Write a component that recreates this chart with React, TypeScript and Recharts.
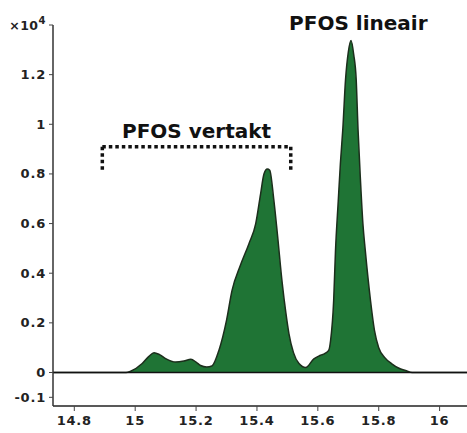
import React from "react";
import {
    AreaChart,
    Area,
    XAxis,
    YAxis,
    ReferenceLine,
    ReferenceDot,
} from "recharts";

// retention time (min) and intensity (x10^4)
const retentionTimes = [
    14.73, 14.97, 14.985, 15.023, 15.045, 15.062, 15.08, 15.1, 15.133, 15.16,
    15.183, 15.2, 15.215, 15.235, 15.252, 15.275, 15.3, 15.318, 15.345, 15.374,
    15.396, 15.412, 15.423, 15.434, 15.442, 15.455, 15.467, 15.483, 15.495,
    15.505, 15.52, 15.538, 15.56, 15.587, 15.603, 15.625, 15.636, 15.642, 15.652,
    15.658, 15.667, 15.674, 15.682, 15.691, 15.7, 15.709, 15.718, 15.726, 15.732,
    15.74, 15.748, 15.756, 15.773, 15.786, 15.8, 15.82, 15.843, 15.865, 15.888,
    15.91, 16.09,
];
const intensities = [
    0, 0, 0.005, 0.036, 0.065, 0.08, 0.072, 0.056, 0.042, 0.046,
    0.053, 0.042, 0.028, 0.022, 0.026, 0.089, 0.21, 0.33, 0.43, 0.52,
    0.6, 0.72, 0.8, 0.82, 0.815, 0.7, 0.56, 0.36, 0.24,
    0.157, 0.08, 0.036, 0.02, 0.055, 0.066, 0.078, 0.09, 0.13, 0.29,
    0.49, 0.69, 0.84, 0.98, 1.18, 1.29, 1.338, 1.28, 1.18, 0.98,
    0.775, 0.6, 0.49, 0.29, 0.17, 0.1, 0.06, 0.035, 0.018, 0.008,
    0, 0,
];

const xTicks = [14.8, 15, 15.2, 15.4, 15.6, 15.8, 16];
const yTicks = [-0.1, 0, 0.2, 0.4, 0.6, 0.8, 1, 1.2, 1.4];

// bracket around the branched isomers
const bracketLeft = 14.892;
const bracketRight = 15.511;
const bracketTop = 0.909;
const bracketBottom = 0.805;

const data = retentionTimes.map((t, i) => ({ t, v: intensities[i] }));

const font = "'DejaVu Sans', Verdana, sans-serif";

const YTick = (props: any) => {
    const { x, y, payload } = props;
    if (payload.value === 1.4) {
        return (
            <text x={x} y={y} dy={5} textAnchor="end" fontFamily={font} fontSize={12.5} fontWeight="bold" fill="#222" letterSpacing={0.5}>
                ×10<tspan dy={-6} fontSize={10}>4</tspan>
            </text>
        );
    }
    return (
        <text x={x} y={y} dy={4.5} textAnchor="end" fontFamily={font} fontSize={13} fontWeight="bold" fill="#222" letterSpacing={0.8}>
            {String(payload.value)}
        </text>
    );
};

const XTick = (props: any) => {
    const { x, y, payload } = props;
    return (
        <text x={x} y={y} dy={12} textAnchor="middle" fontFamily={font} fontSize={13} fontWeight="bold" fill="#222" letterSpacing={0.8}>
            {String(payload.value)}
        </text>
    );
};

const labelStyle = {
    fontFamily: font,
    fontSize: 20,
    fontWeight: "bold",
    fill: "#111",
};

export default function App() {
    return (
        <div style={{ width: 467, height: 433, background: "#fff" }}>
            <style>{`body{margin:0}`}</style>
            <AreaChart
                width={467}
                height={433}
                data={data}
                margin={{ top: 25, right: 0, left: 0, bottom: 0 }}
            >
                <XAxis
                    dataKey="t"
                    type="number"
                    domain={[14.73, 16.09]}
                    ticks={xTicks}
                    allowDataOverflow
                    height={27}
                    tickSize={5}
                    tickMargin={2}
                    tick={<XTick />}
                    axisLine={{ stroke: "#222", strokeWidth: 1.5 }}
                    tickLine={{ stroke: "#444" }}
                />
                <YAxis
                    type="number"
                    domain={[-0.135, 1.4]}
                    ticks={yTicks}
                    allowDataOverflow
                    width={53}
                    tickSize={4}
                    tickMargin={3}
                    tick={<YTick />}
                    axisLine={{ stroke: "#333", strokeWidth: 1.5 }}
                    tickLine={{ stroke: "#444" }}
                />
                <ReferenceLine y={0} stroke="#111" strokeWidth={1.5} />
                <Area
                    type="monotone"
                    dataKey="v"
                    baseValue={0}
                    stroke="#1c2e1c"
                    strokeWidth={1.5}
                    fill="#1f7435"
                    fillOpacity={1}
                    isAnimationActive={false}
                />
                <ReferenceLine
                    segment={[
                        { x: bracketLeft, y: bracketTop },
                        { x: bracketRight, y: bracketTop },
                    ]}
                    stroke="#111"
                    strokeWidth={3.5}
                    strokeDasharray="3.5 3"
                    label={{ value: "PFOS vertakt", position: "top", offset: 9, ...labelStyle }}
                />
                <ReferenceLine
                    segment={[
                        { x: bracketLeft, y: bracketTop },
                        { x: bracketLeft, y: bracketBottom },
                    ]}
                    stroke="#111"
                    strokeWidth={3.5}
                    strokeDasharray="3.5 3"
                />
                <ReferenceLine
                    segment={[
                        { x: bracketRight, y: bracketTop },
                        { x: bracketRight, y: bracketBottom },
                    ]}
                    stroke="#111"
                    strokeWidth={3.5}
                    strokeDasharray="3.5 3"
                />
                <ReferenceDot
                    x={15.733}
                    y={1.345}
                    r={0}
                    stroke="none"
                    fill="none"
                    label={{ value: "PFOS lineair", position: "top", offset: 9, ...labelStyle }}
                />
            </AreaChart>
        </div>
    );
}
